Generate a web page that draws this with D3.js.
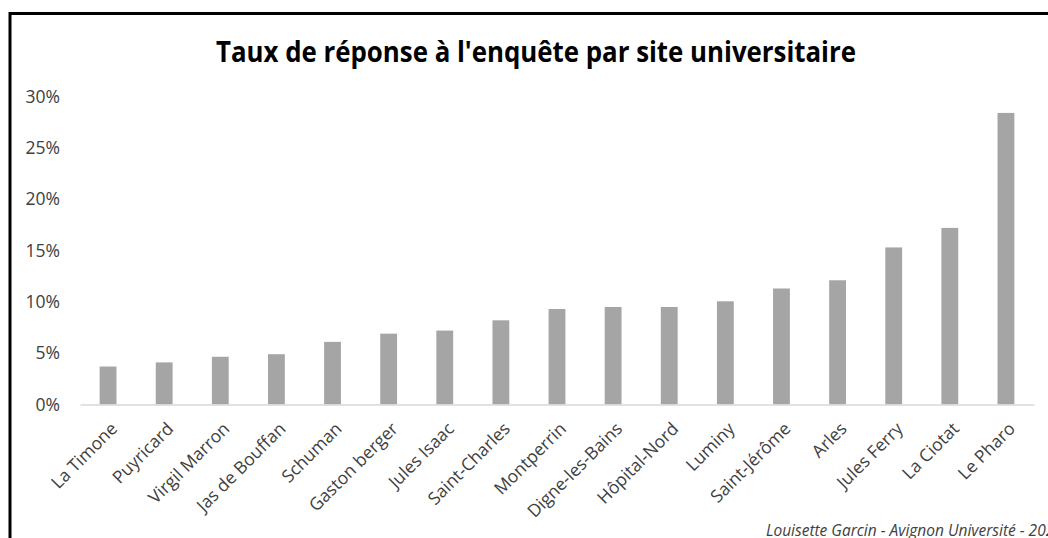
<!DOCTYPE html>
<html>
<head>
<meta charset="utf-8">
<script src="https://cdn.jsdelivr.net/npm/d3@7"></script>
<style>
  html, body { margin: 0; padding: 0; background: #fff; overflow: hidden; }
  svg { display: block; font-family: "Open Sans", "Noto Sans", sans-serif; }
</style>
</head>
<body>
<div id="chart"></div>
<script>
// site names, sorted by response rate
const sites = ["La Timone", "Puyricard", "Virgil Marron", "Jas de Bouffan", "Schuman",
  "Gaston berger", "Jules Isaac", "Saint-Charles", "Montperrin", "Digne-les-Bains",
  "Hôpital-Nord", "Luminy", "Saint-Jérôme", "Arles", "Jules Ferry", "La Ciotat", "Le Pharo"];
// response rate
const rates = [0.037, 0.041, 0.0465, 0.049, 0.061, 0.069, 0.072, 0.082, 0.093, 0.095,
  0.095, 0.1005, 0.113, 0.121, 0.153, 0.172, 0.284];
const yTicks = [0, 0.05, 0.10, 0.15, 0.20, 0.25, 0.30];

const titleText = "Taux de réponse à l'enquête par site universitaire";
const creditText = "Louisette Garcin - Avignon Université - 2021";

const width = 1048, height = 538;
const margin = {top: 96.5, right: 14, bottom: 133.5, left: 80};

const svg = d3.select("#chart").append("svg")
  .attr("width", width)
  .attr("height", height);

// frame of the original chart object (cut on the right and bottom)
svg.append("rect")
  .attr("x", 10)
  .attr("y", 13.5)
  .attr("width", width + 20)
  .attr("height", height + 20)
  .attr("fill", "none")
  .attr("stroke", "#000")
  .attr("stroke-width", 3);

const x = d3.scaleBand()
  .domain(sites)
  .range([margin.left, width - margin.right])
  .paddingInner(0.7)
  .paddingOuter(0.35);

const y = d3.scaleLinear()
  .domain([0, 0.30])
  .range([height - margin.bottom, margin.top]);

// title
svg.append("text")
  .attr("x", 536)
  .attr("y", 62)
  .attr("text-anchor", "middle")
  .attr("font-size", 28)
  .attr("font-weight", "bold")
  .attr("fill", "#000")
  .attr("textLength", 640)
  .attr("lengthAdjust", "spacingAndGlyphs")
  .text(titleText);

// y axis (labels only)
const yAxis = svg.append("g")
  .attr("transform", `translate(${margin.left},0)`)
  .call(d3.axisLeft(y).tickValues(yTicks).tickFormat(d3.format(".0%")).tickSize(0).tickPadding(20));
yAxis.select(".domain").remove();
yAxis.selectAll("text")
  .attr("font-size", 17.5)
  .attr("font-family", "\"Open Sans\", sans-serif")
  .attr("fill", "#404040");

// bars
svg.append("g")
  .selectAll("rect")
  .data(sites)
  .join("rect")
  .attr("x", d => x(d))
  .attr("y", (d, i) => y(rates[i]))
  .attr("width", x.bandwidth())
  .attr("height", (d, i) => y(0) - y(rates[i]))
  .attr("fill", "#a5a5a5");

// x axis
const xAxis = svg.append("g")
  .attr("transform", `translate(0,${y(0)})`)
  .call(d3.axisBottom(x).tickSize(0).tickSizeOuter(0));
xAxis.select(".domain")
  .attr("stroke", "#d9d9d9")
  .attr("stroke-width", 1.5);
xAxis.selectAll("text")
  .attr("x", 0)
  .attr("y", 0)
  .attr("dy", "0.35em")
  .attr("transform", "translate(6,21) rotate(-45)")
  .attr("text-anchor", "end")
  .attr("font-size", 17.5)
  .attr("font-family", "\"Open Sans\", sans-serif")
  .attr("fill", "#404040");

// credit line (cut by the right edge, as in the original)
svg.append("text")
  .attr("x", 766)
  .attr("y", 536)
  .attr("font-size", 15.5)
  .attr("font-style", "italic")
  .attr("fill", "#404040")
  .text(creditText);
</script>
</body>
</html>
